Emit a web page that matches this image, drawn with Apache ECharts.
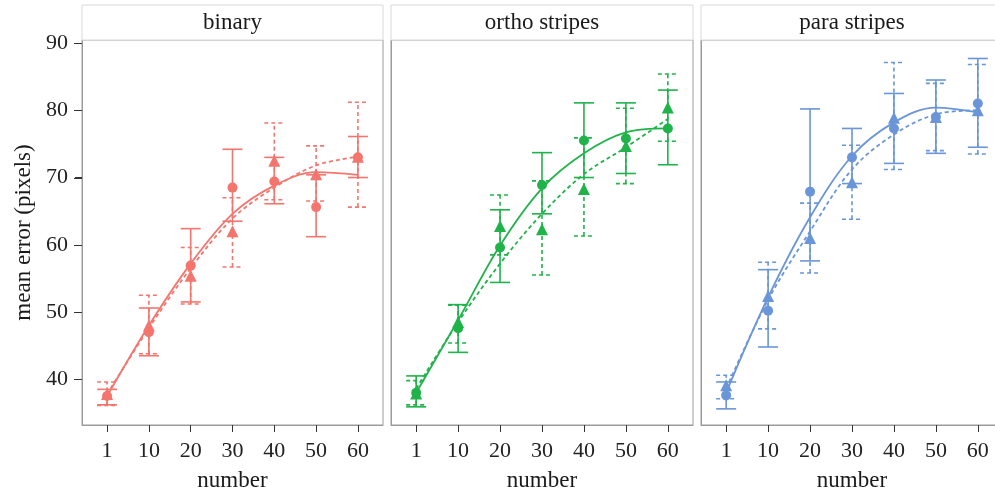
<!DOCTYPE html>
<html><head><meta charset="utf-8">
<script src="https://cdn.jsdelivr.net/npm/echarts@6/dist/echarts.min.js"></script>
<style>html,body{margin:0;padding:0;background:#fff}#c{width:995px;height:492px}</style>
</head><body><div id="c"></div>
<script>
const categories = ['1','10','20','30','40','50','60'];
const panelNames = ['binary','ortho stripes','para stripes'];
const yTicks = [40,50,60,70,80,90];

// binary
const binaryCircleMean = [37.5, 47.0, 56.9, 68.5, 69.4, 65.6, 73.0];
const binaryCircleLow  = [36.2, 43.5, 51.5, 63.5, 66.1, 61.2, 70.0];
const binaryCircleHigh = [38.5, 50.6, 62.4, 74.2, 73.0, 70.4, 76.1];
const binaryTriMean    = [37.8, 48.0, 55.4, 62.0, 72.5, 70.5, 73.1];
const binaryTriLow     = [36.1, 43.8, 51.2, 56.7, 66.7, 66.5, 65.6];
const binaryTriHigh    = [39.6, 52.5, 59.6, 67.0, 78.1, 74.7, 81.2];
const binaryCircleFit  = [37.5, 48.0, 57.2, 64.6, 68.8, 70.8, 70.4];
const binaryTriFit     = [37.8, 47.6, 56.5, 63.9, 68.5, 71.8, 73.1];

// ortho stripes
const orthoCircleMean = [38.0, 47.6, 59.6, 68.9, 75.5, 75.8, 77.3];
const orthoCircleLow  = [35.9, 44.0, 54.4, 64.6, 70.0, 70.6, 71.9];
const orthoCircleHigh = [40.5, 51.1, 65.2, 73.7, 81.1, 81.1, 83.0];
const orthoTriMean    = [37.9, 48.5, 62.8, 62.3, 68.3, 74.7, 80.4];
const orthoTriLow     = [36.2, 45.4, 58.5, 55.5, 61.3, 69.1, 75.4];
const orthoTriHigh    = [39.8, 51.0, 67.4, 69.5, 75.9, 80.3, 85.4];
const orthoCircleFit  = [38.0, 48.8, 59.9, 68.4, 73.6, 76.7, 77.3];
const orthoTriFit     = [38.6, 48.5, 57.2, 64.6, 70.5, 74.5, 78.7];

// para stripes
const paraCircleMean = [37.6, 50.2, 67.9, 73.0, 77.3, 79.0, 81.0];
const paraCircleLow  = [35.6, 44.8, 57.6, 69.1, 72.1, 73.6, 74.5];
const paraCircleHigh = [39.6, 56.3, 80.2, 77.3, 82.5, 84.5, 87.7];
const paraTriMean    = [39.1, 52.4, 61.0, 69.3, 78.9, 79.0, 80.0];
const paraTriLow     = [37.1, 47.5, 55.8, 63.8, 71.2, 74.0, 73.5];
const paraTriHigh    = [40.6, 57.4, 66.2, 74.8, 87.1, 84.0, 86.8];
const paraCircleFit  = [38.0, 52.2, 64.1, 73.2, 78.2, 80.4, 79.7];
const paraTriFit     = [38.6, 51.8, 62.0, 71.2, 76.4, 79.4, 80.0];

const panelColors = ['#F4756E', '#1FB34A', '#6A95D8'];
const panels = [
  {cm: binaryCircleMean, cl: binaryCircleLow, ch: binaryCircleHigh, tm: binaryTriMean, tl: binaryTriLow, th: binaryTriHigh, cf: binaryCircleFit, tf: binaryTriFit},
  {cm: orthoCircleMean, cl: orthoCircleLow, ch: orthoCircleHigh, tm: orthoTriMean, tl: orthoTriLow, th: orthoTriHigh, cf: orthoCircleFit, tf: orthoTriFit},
  {cm: paraCircleMean, cl: paraCircleLow, ch: paraCircleHigh, tm: paraTriMean, tl: paraTriLow, th: paraTriHigh, cf: paraCircleFit, tf: paraTriFit}
];

const FONT = 'Liberation Serif';
const gridLeft = [82, 391, 701];
const gridWidth = [301, 302, 302];
const gridTop = 40, gridHeight = 385;
const BORDER = '#9b9b9b';
const X_MIN = -0.6, X_MAX = 6.6;

function errRender(color, dashed) {
  return function (params, api) {
    const x = api.value(0), lo = api.value(1), hi = api.value(2);
    const a = api.coord([x, lo]), b = api.coord([x, hi]);
    const hw = 10;
    const style = {stroke: color, lineWidth: 1.6, lineDash: dashed ? [4, 3] : null, fill: null};
    return {type: 'group', children: [
      {type: 'line', shape: {x1: a[0], y1: a[1], x2: b[0], y2: b[1]}, style: style},
      {type: 'line', shape: {x1: a[0] - hw, y1: a[1], x2: a[0] + hw, y2: a[1]}, style: style},
      {type: 'line', shape: {x1: b[0] - hw, y1: b[1], x2: b[0] + hw, y2: b[1]}, style: style}
    ]};
  };
}

const grid = [], xAxis = [], yAxis = [], series = [], graphic = [];
const idx = categories.map((c, i) => i);
panels.forEach((p, i) => {
  const color = panelColors[i];
  grid.push({left: gridLeft[i], top: gridTop, width: gridWidth[i], height: gridHeight,
    containLabel: false, outerBoundsMode: 'none',
    show: true, borderColor: BORDER, borderWidth: 1, backgroundColor: '#fff'});
  xAxis.push({type: 'value', gridIndex: i, min: X_MIN, max: X_MAX,
    name: 'number', nameLocation: 'middle', nameGap: 44,
    nameTextStyle: {fontFamily: FONT, fontSize: 23, color: '#1a1a1a'},
    axisLine: {show: true, onZero: false, lineStyle: {color: BORDER, width: 1}}, splitLine: {show: false},
    axisTick: {show: true, length: 7, lineStyle: {color: '#333', width: 1}, customValues: idx},
    axisLabel: {customValues: idx, formatter: v => categories[Math.round(v)], margin: 15,
      fontFamily: FONT, fontSize: 22, color: '#222'}
  });
  yAxis.push({type: 'value', gridIndex: i, min: 33.2, max: 90.45, position: 'left',
    name: i === 0 ? 'mean error (pixels)' : '', nameLocation: 'middle', nameGap: 47,
    nameTextStyle: {fontFamily: FONT, fontSize: 23, color: '#1a1a1a'},
    axisLine: {show: true, onZero: false, lineStyle: {color: BORDER, width: 1}}, splitLine: {show: false},
    axisTick: {show: i === 0, length: 7, lineStyle: {color: '#333', width: 1}, customValues: yTicks},
    axisLabel: {show: i === 0, customValues: yTicks, margin: 14, fontFamily: FONT, fontSize: 22, color: '#222'}
  });
  const mk = (lo, hi) => idx.map(k => [k, lo[k], hi[k]]);
  series.push({type: 'custom', xAxisIndex: i, yAxisIndex: i, renderItem: errRender(color, true),
    data: mk(p.tl, p.th), encode: {x: 0, y: [1, 2]}, silent: true, z: 2});
  series.push({type: 'custom', xAxisIndex: i, yAxisIndex: i, renderItem: errRender(color, false),
    data: mk(p.cl, p.ch), encode: {x: 0, y: [1, 2]}, silent: true, z: 2});
  series.push({type: 'line', xAxisIndex: i, yAxisIndex: i, smooth: 0.35, showSymbol: false,
    data: idx.map(k => [k, p.tf[k]]), lineStyle: {color: color, width: 1.8, type: [4, 3]}, z: 3});
  series.push({type: 'line', xAxisIndex: i, yAxisIndex: i, smooth: 0.35, showSymbol: false,
    data: idx.map(k => [k, p.cf[k]]), lineStyle: {color: color, width: 1.8}, z: 3});
  series.push({type: 'scatter', xAxisIndex: i, yAxisIndex: i, symbol: 'circle', symbolSize: 10,
    data: idx.map(k => [k, p.cm[k]]), itemStyle: {color: color, opacity: 1}, z: 4});
  series.push({type: 'scatter', xAxisIndex: i, yAxisIndex: i, symbol: 'triangle', symbolSize: 12,
    data: idx.map(k => [k, p.tm[k]]), itemStyle: {color: color, opacity: 1}, z: 4});
  graphic.push({type: 'rect', shape: {x: gridLeft[i], y: 5, width: gridWidth[i], height: gridTop - 5},
    style: {fill: '#fff', stroke: '#d9d9d9', lineWidth: 1}, z: 1});
  graphic.push({type: 'text', x: gridLeft[i] + gridWidth[i] / 2, y: 23,
    style: {text: panelNames[i], fontFamily: FONT, fontSize: 23, fill: '#1a1a1a', align: 'center', verticalAlign: 'middle'}, z: 2});
});

const chart = echarts.init(document.getElementById('c'), null, {renderer: 'canvas'});
chart.setOption({animation: false, grid, xAxis, yAxis, series, graphic});

// y-axis tick marks positioned through the first panel's scales
const tickGraphics = yTicks.map(v => {
  const pt = chart.convertToPixel({gridIndex: 0}, [X_MIN, v]);
  const y = Math.round(pt[1]) + 0.5;
  return {type: 'line', shape: {x1: pt[0] - 8, y1: y, x2: pt[0], y2: y},
    style: {stroke: '#333', lineWidth: 1}, z: 100, zlevel: 1};
});
chart.setOption({graphic: graphic.concat(tickGraphics)});
</script></body></html>
